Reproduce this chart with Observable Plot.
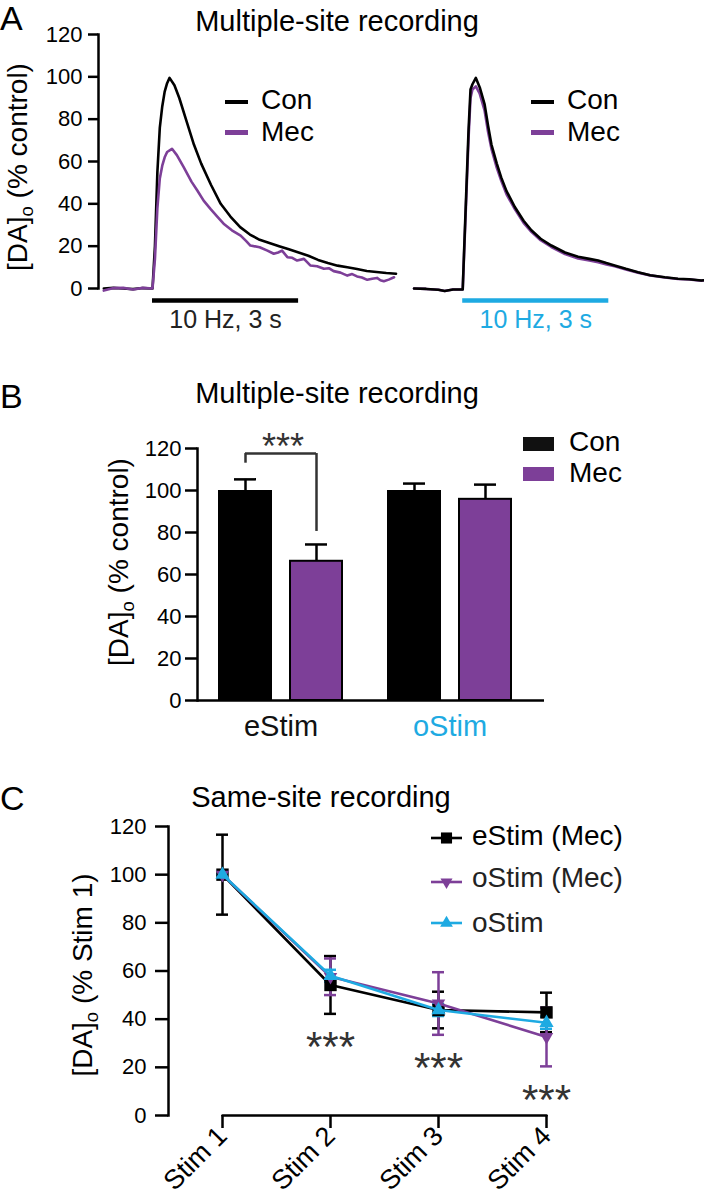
<!DOCTYPE html>
<html><head><meta charset="utf-8">
<script src="https://cdn.jsdelivr.net/npm/d3@7"></script>
<script src="https://cdn.jsdelivr.net/npm/@observablehq/plot@0.6"></script>
<style>
body{margin:0;background:#fff;}
#fig{position:relative;width:704px;height:1201px;overflow:hidden;font-family:"Liberation Sans",Arial,Helvetica,sans-serif;color:#000;background:#fff;}
.abs{position:absolute;white-space:nowrap;line-height:1;}
#fig svg{position:absolute;left:0;}
</style></head><body><div id="fig"></div>
<script>
// ---------- DATA ----------
// Panel A: traces (time in s from stimulus onset, [DA]o % control)
const eTimeCon = [-1,-0.8,-0.6,-0.4,-0.2,0,0.05,0.1,0.15,0.2,0.25,0.3,0.35,0.45,0.55,0.7,0.85,1.0,1.2,1.4,1.6,1.8,2.0,2.2,2.4,2.6,2.8,3.0,3.2,3.4,3.6,3.8,4.0,4.2,4.4,4.6,4.8,5.0];
const eCon = [0,0.3,0,-0.3,0.2,0,20,55,76,86,93,97,99.5,96,90,79,68,59,49,40,34,29,25.5,23,21.5,20,18.5,17,15.5,13.5,12,10.8,10,9.2,8.3,7.8,7.3,7];
const eTimeMec = [-1,-0.8,-0.6,-0.4,-0.2,0,0.05,0.1,0.15,0.2,0.25,0.3,0.4,0.5,0.64,0.8,0.92,1.05,1.19,1.33,1.46,1.63,1.81,1.92,2.01,2.2,2.36,2.49,2.58,2.66,2.77,2.87,2.97,3.11,3.24,3.38,3.52,3.62,3.72,3.86,4.0,4.1,4.2,4.3,4.41,4.51,4.61,4.68,4.75,4.85,4.96];
const eMec = [-1,0.2,0.3,-0.5,0.3,0,14,38,52,58,62,64.5,66,63,57.3,50.5,46.3,41.5,37.6,34,30.6,27.5,25,22.5,20.3,19.5,17.9,16.4,17,17.9,14.8,14.5,13.2,14,10.9,10.5,9.3,9.6,8.2,7.5,6.1,6.8,5.7,5.2,4.1,4.6,5.0,3.9,3.4,4.2,5.3];
const oTime = [-1,-0.75,-0.5,-0.37,-0.2,0,0.04,0.08,0.12,0.16,0.2,0.27,0.35,0.45,0.52,0.59,0.7,0.79,0.9,1.07,1.25,1.41,1.6,1.82,2.1,2.37,2.6,2.78,2.95,3.12,3.35,3.6,3.85,4.15,4.42,4.65,4.9,5.0];
const oCon = [0,-0.2,-0.6,-1.2,-0.5,-0.5,25,50,75,94,96.5,99.5,95,87,77,68,59,52.5,46,38.5,32,27.5,23.5,20.3,17,15,14,13.2,12,10.9,9.3,7.7,6.3,5.3,4.6,4.4,3.8,4];
const oMec = [0,-0.2,-0.6,-1.2,-0.5,-0.5,23,47,71,90,94,95.5,92,84,74,66,57,51,44.5,37.5,31,26.8,22.8,19.6,16.3,14.2,13.2,12.4,11.4,10.5,9.0,7.5,6.2,5.2,4.5,4.3,3.7,3.9];
const stimLabelText = "10 Hz, 3 s";
const stimDuration = 3;

// Panel B: bars
const groupNames = ["eStim", "oStim"];
const barGroups = ["eStim", "eStim", "oStim", "oStim"];
const barConds = ["Con", "Mec", "Con", "Mec"];
const barMeans = [100, 66.3, 100, 95.8];
const barSems = [5.3, 8, 3.3, 7];

// Panel C: same-site recording
const stimLabels = ["Stim 1", "Stim 2", "Stim 3", "Stim 4"];
const seriesNames = ["eStim (Mec)", "oStim (Mec)", "oStim"];
const eStimMecMean = [100, 54.2, 43.8, 42.8];
const eStimMecSem = [16.6, 12, 7.6, 8.2];
const oStimMecMean = [100, 57.6, 46.5, 32.6];
const oStimMecSem = [0, 7.6, 13, 12.2];
const oStimMean = [100, 58, 43.8, 38.5];
const oStimSem = [0, 2.5, 2.5, 2.5];
const sigStims = ["Stim 2", "Stim 3", "Stim 4"];

// ---------- STYLE ----------
const BLACK = "#000", PURPLE = "#7d3f98", CYAN = "#1eaae2";
const FONT = '"Liberation Sans", Arial, Helvetica, sans-serif';
const fig = document.getElementById("fig");

function addText(html, x, baseline, size, anchor = "start", color = "#000") {
  const d = document.createElement("div");
  d.className = "abs"; d.innerHTML = html;
  d.style.fontSize = size + "px"; d.style.color = color;
  d.style.top = (baseline - 0.8465 * size) + "px";
  if (anchor === "middle") { d.style.left = (x - 400) + "px"; d.style.width = "800px"; d.style.textAlign = "center"; }
  else d.style.left = x + "px";
  fig.appendChild(d);
}
function addVLabel(html, cx, cy, size) {
  const d = document.createElement("div");
  d.className = "abs"; d.innerHTML = html;
  d.style.fontSize = size + "px"; d.style.width = "400px"; d.style.height = size + "px";
  d.style.left = (cx - 200) + "px"; d.style.top = (cy - size / 2) + "px";
  d.style.textAlign = "center"; d.style.transform = "rotate(-90deg)";
  fig.appendChild(d);
}
function addBox(x, y, w, h, color, border) {
  const d = document.createElement("div");
  d.style.position = "absolute"; d.style.left = x + "px"; d.style.top = y + "px";
  d.style.width = w + "px"; d.style.height = h + "px"; d.style.background = color;
  if (border) { d.style.boxSizing = "border-box"; d.style.border = border; }
  fig.appendChild(d);
}
function place(svg, top) { svg.style.top = top + "px"; fig.appendChild(svg); }
const dsub = '[DA]<span style="font-size:0.66em;vertical-align:-0.32em">o</span>';

// ---------- PANEL A ----------
const sideOffset = 6.37; // display shift of the oStim trace (s)
const traceRows = [];
function addTrace(side, cond, ts, vs) { ts.forEach((t, i) => traceRows.push({side, cond, t, v: vs[i]})); }
addTrace("eStim", "Con", eTimeCon, eCon);
addTrace("eStim", "Mec", eTimeMec, eMec);
addTrace("oStim", "Con", oTime, oCon);
addTrace("oStim", "Mec", oTime, oMec);
const xpos = d => d.t + (d.side === "oStim" ? sideOffset : 0);
const stimRows = groupNames.map(g => ({side: g, t: 0, end: stimDuration}));
const tr = (side, cond) => traceRows.filter(d => d.side === side && d.cond === cond);

const plotA = Plot.plot({
  width: 704, height: 340, marginLeft: 98, marginRight: 0, marginTop: 34, marginBottom: 52,
  style: {fontFamily: FONT, background: "transparent", overflow: "visible"},
  x: {domain: [-1.109, 11.335], axis: null},
  y: {domain: [0, 120]},
  marks: [
    Plot.axisY({ticks: d3.range(0, 121, 20), tickSize: 10, tickPadding: 6, fontSize: 22, strokeWidth: 2.5, label: null}),
    Plot.frame({anchor: "left", strokeWidth: 2.5}),
    Plot.line(tr("eStim", "Con"), {x: xpos, y: "v", stroke: BLACK, strokeWidth: 2.6}),
    Plot.line(tr("eStim", "Mec"), {x: xpos, y: "v", stroke: PURPLE, strokeWidth: 2.6}),
    Plot.line(tr("oStim", "Mec"), {x: xpos, y: "v", stroke: PURPLE, strokeWidth: 2.6}),
    Plot.line(tr("oStim", "Con"), {x: xpos, y: "v", stroke: BLACK, strokeWidth: 2.6}),
    Plot.ruleY(stimRows.filter(d => d.side === "eStim"), {x1: xpos, x2: d => xpos(d) + d.end, y: () => 0, dy: 12, stroke: BLACK, strokeWidth: 4.5}),
    Plot.ruleY(stimRows.filter(d => d.side === "oStim"), {x1: xpos, x2: d => xpos(d) + d.end, y: () => 0, dy: 12, stroke: CYAN, strokeWidth: 4.5}),
    Plot.text(stimRows.filter(d => d.side === "eStim"), {x: d => xpos(d) + d.end / 2, y: () => 0, dy: 31, text: () => stimLabelText, fill: "#222", fontSize: 25}),
    Plot.text(stimRows.filter(d => d.side === "oStim"), {x: d => xpos(d) + d.end / 2, y: () => 0, dy: 31, text: () => stimLabelText, fill: CYAN, fontSize: 25})
  ]
});
place(plotA, 0);

// ---------- PANEL B ----------
const barRows = barGroups.map((g, i) => ({group: g, cond: barConds[i], mean: barMeans[i], sem: barSems[i]}));
const conRows = barRows.filter(d => d.cond === "Con");
const mecRows = barRows.filter(d => d.cond === "Mec");
const bracket = [{group: "eStim", top: 117.6, left: conRows[0].mean + conRows[0].sem + 7.7, right: mecRows[0].mean + mecRows[0].sem + 6.2}];
const OFF = 35.5;
const plotB = Plot.plot({
  width: 704, height: 410, marginLeft: 197, marginRight: 160, marginTop: 108, marginBottom: 50,
  style: {fontFamily: FONT, background: "transparent", overflow: "visible"},
  x: {type: "band", domain: groupNames, range: [196, 534], padding: 0, axis: null},
  y: {domain: [0, 120]},
  marks: [
    Plot.axisY({ticks: d3.range(0, 121, 20), tickSize: 12, tickPadding: 4, fontSize: 22, strokeWidth: 2.5, label: null}),
    Plot.ruleX(conRows, {x: "group", y1: "mean", y2: d => d.mean + d.sem, dx: -OFF, stroke: BLACK, strokeWidth: 2.5}),
    Plot.tickY(conRows, {x: "group", y: d => d.mean + d.sem, dx: -OFF, insetLeft: 73.5, insetRight: 73.5, stroke: BLACK, strokeWidth: 2.5}),
    Plot.ruleX(mecRows, {x: "group", y1: "mean", y2: d => d.mean + d.sem, dx: OFF, stroke: BLACK, strokeWidth: 2.5}),
    Plot.tickY(mecRows, {x: "group", y: d => d.mean + d.sem, dx: OFF, insetLeft: 73.5, insetRight: 73.5, stroke: BLACK, strokeWidth: 2.5}),
    Plot.barY(conRows, {x: "group", y: "mean", dx: -OFF, insetLeft: 57.5, insetRight: 57.5, fill: BLACK}),
    Plot.barY(mecRows, {x: "group", y: "mean", dx: OFF, insetLeft: 58.5, insetRight: 58.5, fill: PURPLE, stroke: BLACK, strokeWidth: 2}),
    Plot.frame({anchor: "left", strokeWidth: 2.5}),
    Plot.ruleY([0], {strokeWidth: 2.5}),
    Plot.ruleX(bracket, {x: "group", y1: "left", y2: "top", dx: -OFF, stroke: "#333", strokeWidth: 2.5}),
    Plot.ruleX(bracket, {x: "group", y1: "right", y2: "top", dx: OFF, stroke: "#333", strokeWidth: 2.5}),
    Plot.tickY(bracket, {x: "group", y: "top", insetLeft: 84.5 - OFF, insetRight: 84.5 - OFF, stroke: "#333", strokeWidth: 2.5}),
    Plot.text(bracket, {x: "group", y: "top", dy: -6, dx: 2, text: () => "***", fontSize: 36, fill: "#333"}),
    Plot.text(groupNames.slice(0, 1), {x: d => d, y: () => 0, dy: 26, text: d => d, fontSize: 29, fill: "#111"}),
    Plot.text(groupNames.slice(1), {x: d => d, y: () => 0, dy: 26, text: d => d, fontSize: 29, fill: CYAN})
  ]
});
place(plotB, 340);

// ---------- PANEL C ----------
const seriesData = [
  {name: seriesNames[0], mean: eStimMecMean, sem: eStimMecSem, color: BLACK},
  {name: seriesNames[1], mean: oStimMecMean, sem: oStimMecSem, color: PURPLE},
  {name: seriesNames[2], mean: oStimMean, sem: oStimSem, color: CYAN}
];
const downTriangle = {
  draw(context, size) {
    const s3 = Math.sqrt(3);
    const y = -Math.sqrt(size / (s3 * 3));
    context.moveTo(0, -y * 2);
    context.lineTo(-s3 * y, y);
    context.lineTo(s3 * y, y);
    context.closePath();
  }
};
const symbols = ["square", downTriangle, "triangle"];
const radii = [7, 5, 5.3];
const cRows = seriesData.map(s => stimLabels.map((st, i) => ({series: s.name, stim: st, mean: s.mean[i], lo: s.mean[i] - s.sem[i], hi: s.mean[i] + s.sem[i]})));
const sigRows = sigStims.map(st => ({stim: st, y: d3.min(cRows.flat().filter(d => d.stim === st), d => d.lo)}));
const CAP = 48; // band inset giving ~12px caps

const cMarks = [
  Plot.axisY({ticks: d3.range(0, 121, 20), tickSize: 13, tickPadding: 9, fontSize: 22, strokeWidth: 2.5, label: null}),
  Plot.axisX({tickRotate: -45, tickSize: 13, tickPadding: 3, fontSize: 27, strokeWidth: 2.5, label: null}),
  Plot.frame({anchor: "left", strokeWidth: 2.5}),
  Plot.line([stimLabels[0], stimLabels[stimLabels.length - 1]], {x: d => d, y: () => 0, stroke: BLACK, strokeWidth: 2.5})
];
seriesData.forEach((s, k) => {
  const rows = cRows[k];
  cMarks.push(
    Plot.ruleX(rows, {x: "stim", y1: "lo", y2: "hi", stroke: s.color, strokeWidth: 2.5}),
    Plot.tickY(rows, {x: "stim", y: "hi", insetLeft: CAP, insetRight: CAP, stroke: s.color, strokeWidth: 2.5}),
    Plot.tickY(rows, {x: "stim", y: "lo", insetLeft: CAP, insetRight: CAP, stroke: s.color, strokeWidth: 2.5})
  );
});
seriesData.forEach((s, k) => {
  const rows = cRows[k];
  cMarks.push(
    Plot.line(rows, {x: "stim", y: "mean", stroke: s.color, strokeWidth: 2.6}),
    Plot.dot(rows, {x: "stim", y: "mean", fill: s.color, symbol: () => symbols[k], r: radii[k], stroke: "none"})
  );
});
cMarks.push(Plot.text(sigRows, {x: "stim", y: "y", dy: 34, text: () => "***", fontSize: 42, fill: "#333"}));

const plotC = Plot.plot({
  width: 704, height: 450, marginLeft: 168, marginRight: 0, marginTop: 76, marginBottom: 85,
  style: {fontFamily: FONT, background: "transparent", overflow: "visible"},
  x: {type: "band", domain: stimLabels, range: [168, 600], padding: 0},
  y: {domain: [0, 120]},
  symbol: {type: "identity"},
  marks: cMarks
});
place(plotC, 750);

// ---------- TEXT, LEGENDS ----------
addText("A", 0, 30, 34);
addText("B", 0, 408, 34);
addText("C", 0, 810, 34);
addText("Multiple-site recording", 337, 31.7, 29, "middle");
addText("Multiple-site recording", 337, 403.3, 29, "middle");
addText("Same-site recording", 321, 808, 29, "middle");

addVLabel(dsub + " (% control)", 18, 167, 28);
addVLabel(dsub + " (% control)", 119, 562, 28);
addVLabel(dsub + " (% Stim 1)", 83, 975, 28);

// Legend A (two copies)
[[225, 261], [531, 567]].forEach(([lx, tx]) => {
  addBox(lx, 99.5, 23, 4.5, BLACK);
  addBox(lx, 130, 23, 4.5, PURPLE);
  addText("Con", tx, 110, 28);
  addText("Mec", tx, 141.7, 28);
});
// Legend B
addBox(523, 437, 31, 14, "#111");
addBox(523, 467, 31, 14, PURPLE);
addText("Con", 569, 451.7, 28);
addText("Mec", 569, 483, 28);
// Legend C
const legY = [838, 882, 923];
seriesData.forEach((s, k) => {
  const ns = "http://www.w3.org/2000/svg";
  const svg = document.createElementNS(ns, "svg");
  svg.setAttribute("width", 40); svg.setAttribute("height", 24);
  svg.style.position = "absolute"; svg.style.left = "426px"; svg.style.top = (legY[k] - 12) + "px";
  const ln = document.createElementNS(ns, "line");
  ln.setAttribute("x1", 5); ln.setAttribute("x2", 36); ln.setAttribute("y1", 12); ln.setAttribute("y2", 12);
  ln.setAttribute("stroke", s.color); ln.setAttribute("stroke-width", 2.6);
  svg.appendChild(ln);
  const p = document.createElementNS(ns, "path");
  const sym = typeof symbols[k] === "string" ? (symbols[k] === "square" ? d3.symbolSquare : d3.symbolTriangle) : symbols[k];
  p.setAttribute("d", d3.symbol(sym, Math.PI * radii[k] * radii[k] * 0.8)());
  p.setAttribute("transform", "translate(20.5,12)");
  p.setAttribute("fill", s.color);
  svg.appendChild(p);
  fig.appendChild(svg);
});
addText("eStim (Mec)", 472, 846, 28);
addText("oStim (Mec)", 472, 888, 28, "start", "#222");
addText("oStim", 472, 933, 28, "start", "#222");
</script></body></html>
